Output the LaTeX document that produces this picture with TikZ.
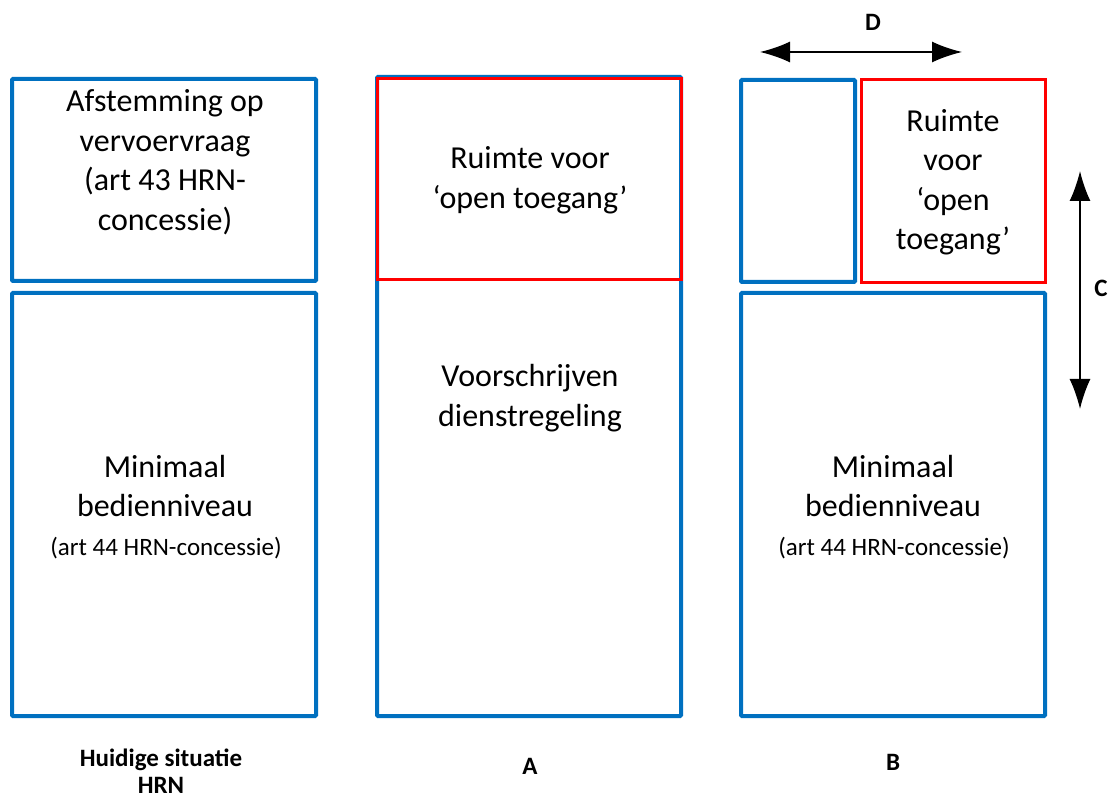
\documentclass[tikz,border=0pt]{standalone}
\usepackage{fontspec}
\setmainfont{Carlito}
\usetikzlibrary{arrows.meta}

\definecolor{kaderblauw}{RGB}{0,112,192}
\definecolor{kaderrood}{RGB}{255,0,0}

\tikzset{
  blauwvak/.style={draw=kaderblauw, line width=4pt, rounded corners=1pt, inner sep=0pt},
  roodvak/.style={draw=kaderrood, line width=3pt, inner sep=0pt},
  groottekst/.style={align=center, font=\fontsize{32}{39.5}\selectfont},
  kleintekst/.style={align=center, font=\fontsize{25}{30}\selectfont},
  labeltekst/.style={align=center, inner sep=1pt, font=\fontsize{25}{27}\selectfont\bfseries},
  pijl/.style={line width=1.6pt, {Latex[length=30pt,width=21pt]}-{Latex[length=30pt,width=21pt]}},
}

\begin{document}
\begin{tikzpicture}[x=1pt, y=-1pt]
  \useasboundingbox (0,0) rectangle (1109,799);

  % Huidige situatie
  \node[blauwvak, minimum width=304pt, minimum height=202pt] (hbov) at (164,180) {};
  \node[blauwvak, minimum width=304pt, minimum height=423pt] (honder) at (164,504.5) {};
  \node[groottekst] (htekst) at (165,162) {Afstemming op\\vervoervraag\\(art 43 HRN-\\concessie)};
  \node[groottekst] (hmin) at (165,486) {Minimaal\\bedienniveau};
  \node[kleintekst] (hart) at (166,548) {(art 44 HRN-concessie)};
  \node[labeltekst] (hlabel) at (161,771) {Huidige situatie\\HRN};

  % Variant A
  \node[blauwvak, minimum width=304pt, minimum height=639pt] (abuiten) at (529,396.5) {};
  \node[roodvak, minimum width=304pt, minimum height=201pt] (arood) at (529,179.5) {};
  \node[groottekst] (aruimte) at (530,180) {Ruimte voor\\‘open toegang’};
  \node[groottekst] (adienst) at (530,398) {Voorschrijven\\dienstregeling};
  \node[labeltekst] (alabel) at (530,766) {A};

  % Variant B
  \node[blauwvak, minimum width=114pt, minimum height=202pt] (bklein) at (798,181) {};
  \node[roodvak, minimum width=184pt, minimum height=203pt] (brood) at (953,181.5) {};
  \node[blauwvak, minimum width=304pt, minimum height=423pt] (bonder) at (893,504.5) {};
  \node[groottekst] (bruimte) at (953,182) {Ruimte\\voor\\‘open\\toegang’};
  \node[groottekst] (bmin) at (893,486) {Minimaal\\bedienniveau};
  \node[kleintekst] (bart) at (894,548) {(art 44 HRN-concessie)};
  \node[labeltekst] (blabel) at (893,762) {B};

  % maatpijlen
  \coordinate (dlinks) at (760,52);
  \coordinate (drechts) at (962,52);
  \coordinate (cboven) at (1080,171);
  \coordinate (conder) at (1080,409);
  \draw[pijl] (dlinks) -- (drechts);
  \draw[pijl] (cboven) -- (conder);
  \node[labeltekst] (dlabel) at (873,22) {D};
  \node[labeltekst] (clabel) at (1101,288) {C};
\end{tikzpicture}
\end{document}
